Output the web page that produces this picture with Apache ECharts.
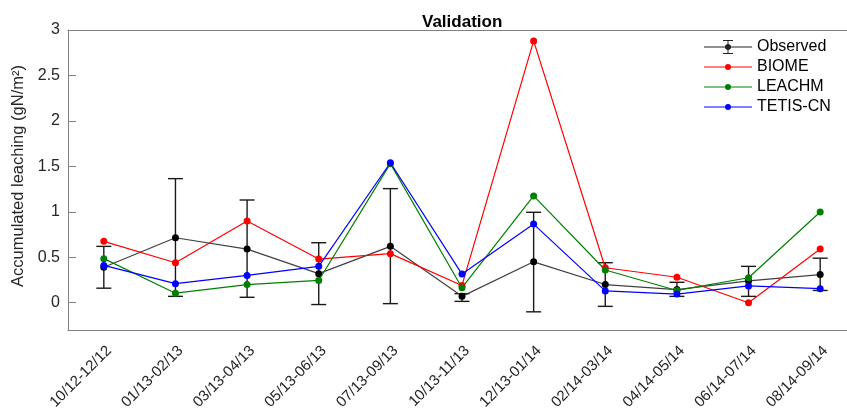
<!DOCTYPE html>
<html><head><meta charset="utf-8">
<script src="https://cdn.jsdelivr.net/npm/echarts@6/dist/echarts.min.js"></script>
<style>html,body{margin:0;padding:0;background:#fff}#c{width:847px;height:410px}</style>
</head><body><div id="c"></div>
<script>
const categories = ['10/12-12/12','01/13-02/13','03/13-04/13','05/13-06/13','07/13-09/13','10/13-11/13','12/13-01/14','02/14-03/14','04/14-05/14','06/14-07/14','08/14-09/14'];
const observed = [0.39,0.715,0.59,0.32,0.62,0.07,0.45,0.20,0.145,0.24,0.31];
const obsLow   = [0.16,0.07,0.06,-0.02,-0.01,0.015,-0.10,-0.04,0.07,0.07,0.135];
const obsHigh  = [0.62,1.365,1.13,0.66,1.255,0.10,0.995,0.44,0.225,0.40,0.49];
const biome  = [0.675,0.44,0.90,0.48,0.54,0.19,2.88,0.385,0.28,0.0,0.59];
const leachm = [0.485,0.105,0.20,0.245,1.53,0.165,1.175,0.36,0.135,0.275,0.998];
const tetis  = [0.41,0.21,0.30,0.40,1.54,0.315,0.865,0.13,0.095,0.185,0.155];
const yTicks = [0,0.5,1,1.5,2,2.5,3];

const chart = echarts.init(document.getElementById('c'));
const font = 'Liberation Sans, Arial, Helvetica, sans-serif';
const axisCol = '#808080';
const errIcon = 'path://M0 6.5H48V7.5H0Z M23.5 0.6H24.5V13.4H23.5Z M19 0H29V1H19Z M19 13H29V14H19Z M27 7A3 3 0 1 1 21 7A3 3 0 1 1 27 7Z';
const lineIcon = 'path://M0 0H0.01V0.01H0Z M0 13.99H0.01V14H0Z M0 6.5H48V7.5H0Z M27 7A3 3 0 1 1 21 7A3 3 0 1 1 27 7Z';
function lineSeries(name, data, color, lineColor){
  return {name, type:'line', data, symbol:'circle', symbolSize:7,
    itemStyle:{color}, lineStyle:{color: lineColor||color, width:1.2}, emphasis:{disabled:true}};
}
chart.setOption({
  animation:false,
  title:{text:'Validation', left:417, top:9,
    textStyle:{fontFamily:font, fontSize:17, fontWeight:'bold', color:'#000'}},
  legend:{orient:'vertical', left:699, top:34, itemWidth:48, itemHeight:14, itemGap:4,
    textStyle:{fontFamily:font, fontSize:16, color:'#000'},
    data:[{name:'Observed', icon:errIcon, itemStyle:{color:'#222'}},
          {name:'BIOME', icon:lineIcon},{name:'LEACHM', icon:lineIcon},{name:'TETIS-CN', icon:lineIcon}]},
  grid:{left:68, right:-9, top:30, bottom:80, containLabel:false, outerBoundsMode:'none'},
  xAxis:[{type:'category', data:categories, boundaryGap:true,
    axisLine:{onZero:false, lineStyle:{color:axisCol, width:1}},
    axisTick:{inside:true, length:8, alignWithLabel:true, lineStyle:{color:axisCol}},
    axisLabel:{rotate:45, margin:13, verticalAlign:'top', fontFamily:font, fontSize:15, color:'#262626', interval:0},
    splitLine:{show:false}},
    {type:'category', data:categories, position:'top', boundaryGap:true,
    axisLine:{onZero:false, lineStyle:{color:axisCol}}, axisTick:{show:false}, axisLabel:{show:false}}],
  yAxis:{type:'value', min:-0.3, max:3,
    name:'Accumulated leaching (gN/m²)', nameLocation:'middle', nameGap:35,
    nameTextStyle:{fontFamily:font, fontSize:16.5, color:'#262626', padding:[0,0,0,8]},
    axisLine:{show:true, onZero:false, lineStyle:{color:axisCol}},
    axisTick:{show:true, inside:true, length:8, customValues:yTicks, lineStyle:{color:axisCol}},
    axisLabel:{customValues:yTicks, margin:8, fontFamily:font, fontSize:16, color:'#262626'},
    splitLine:{show:false}},
  series:[
    {name:'ObservedError', type:'custom', data: categories.map((c,i)=>[i, obsLow[i], obsHigh[i]]),
      itemStyle:{color:'#000'},
      renderItem:function(params, api){
        const x = api.value(0);
        const lo = api.coord([x, api.value(1)]);
        const hi = api.coord([x, api.value(2)]);
        const w = 7.5;
        const st = {stroke:'#1a1a1a', lineWidth:1.4};
        return {type:'group', children:[
          {type:'line', shape:{x1:lo[0], y1:lo[1], x2:hi[0], y2:hi[1]}, style:st},
          {type:'line', shape:{x1:lo[0]-w, y1:lo[1], x2:lo[0]+w, y2:lo[1]}, style:st},
          {type:'line', shape:{x1:hi[0]-w, y1:hi[1], x2:hi[0]+w, y2:hi[1]}, style:st}
        ]};
      }, z:2},
    Object.assign(lineSeries('Observed', observed, '#000', '#404040'), {z:2}),
    lineSeries('BIOME', biome, '#ff0000'),
    lineSeries('LEACHM', leachm, '#008000'),
    lineSeries('TETIS-CN', tetis, '#0000ff')
  ]
});
</script></body></html>
